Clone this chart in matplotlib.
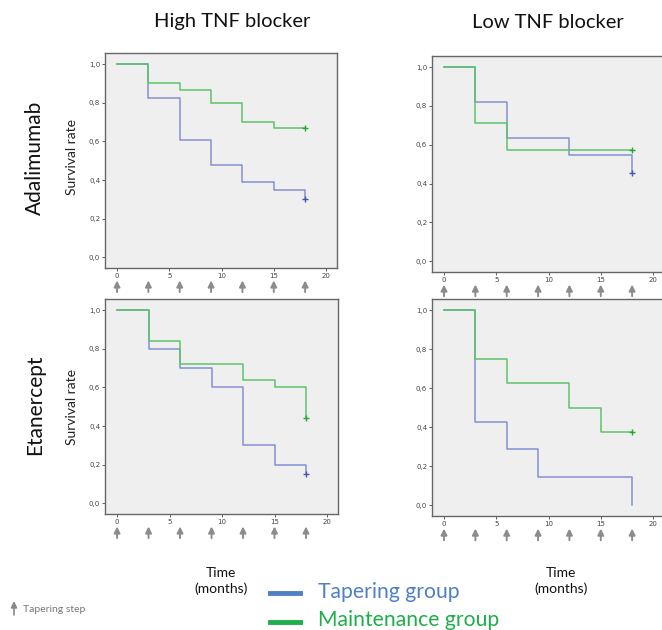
import numpy as np
import matplotlib.pyplot as plt
from matplotlib.ticker import FuncFormatter

plt.rcParams['font.family'] = ['Lato', 'DejaVu Sans']

# tapering steps (months)
steps = [0, 3, 6, 9, 12, 15, 18]

# Adalimumab, high TNF blocker
ada_high_tap_t = [0, 3, 6, 9, 12, 15, 18]
ada_high_tap_s = [1.0, 0.824, 0.608, 0.480, 0.392, 0.350, 0.300]
ada_high_mai_t = [0, 3, 6, 9, 12, 15, 18]
ada_high_mai_s = [1.0, 0.900, 0.867, 0.800, 0.700, 0.667, 0.667]

# Adalimumab, low TNF blocker
ada_low_tap_t = [0, 3, 6, 12, 18]
ada_low_tap_s = [1.0, 0.818, 0.636, 0.545, 0.455]
ada_low_mai_t = [0, 3, 6, 18]
ada_low_mai_s = [1.0, 0.714, 0.571, 0.571]

# Etanercept, high TNF blocker
eta_high_tap_t = [0, 3, 6, 9, 12, 15, 18]
eta_high_tap_s = [1.0, 0.80, 0.70, 0.60, 0.30, 0.20, 0.15]
eta_high_mai_t = [0, 3, 6, 12, 15, 18]
eta_high_mai_s = [1.0, 0.84, 0.72, 0.64, 0.60, 0.44]

# Etanercept, low TNF blocker
eta_low_tap_t = [0, 3, 6, 9, 18]
eta_low_tap_s = [1.0, 0.429, 0.286, 0.143, 0.0]
eta_low_mai_t = [0, 3, 6, 12, 15, 18]
eta_low_mai_s = [1.0, 0.750, 0.625, 0.500, 0.375, 0.375]

BLUE = '#8391d2'
GREEN = '#5cc46c'
ARROW = '#8c8c8c'
W, H = 662, 630

fig = plt.figure(figsize=(W / 100, H / 100), dpi=100)


def px_axes(left, top, right, bottom):
    return fig.add_axes([left / W, 1 - bottom / H, (right - left) / W, (bottom - top) / H])


panels = [
    (px_axes(105, 53, 337, 268), ada_high_tap_t, ada_high_tap_s, ada_high_mai_t, ada_high_mai_s, True),
    (px_axes(432, 56, 664, 272), ada_low_tap_t, ada_low_tap_s, ada_low_mai_t, ada_low_mai_s, True),
    (px_axes(105, 299, 338, 514), eta_high_tap_t, eta_high_tap_s, eta_high_mai_t, eta_high_mai_s, True),
    (px_axes(432, 299, 664, 516), eta_low_tap_t, eta_low_tap_s, eta_low_mai_t, eta_low_mai_s, False),
]

comma = FuncFormatter(lambda v, p: ('%.1f' % v).replace('.', ','))

for ax, tt, ts, mt, ms, cens_tap in panels:
    ax.set_facecolor('#efefef')
    ax.step(tt, ts, where='post', color=BLUE, lw=1.1)
    ax.step(mt, ms, where='post', color=GREEN, lw=1.1)
    if cens_tap:
        ax.plot(tt[-1], ts[-1], '+', color='#4455bb', ms=4, mew=1)
    ax.plot(mt[-1], ms[-1], '+', color='#22aa33', ms=4, mew=1)
    ax.set_xlim(-1.15, 21.05)
    ax.set_ylim(-0.055, 1.057)
    ax.set_xticks([0, 5, 10, 15, 20])
    ax.set_yticks([0, 0.2, 0.4, 0.6, 0.8, 1.0])
    ax.yaxis.set_major_formatter(comma)
    ax.tick_params(labelsize=5, length=2, width=0.6, color='#444444', labelcolor='#444444', pad=1.5,
                   labelfontfamily='DejaVu Sans')
    for s in ax.spines.values():
        s.set_color('#666666')
        s.set_linewidth(1.0)
    tr = ax.get_xaxis_transform()
    for x in steps:
        ax.annotate('', xy=(x, -0.058), xytext=(x, -0.112), xycoords=tr, textcoords=tr,
                    annotation_clip=False,
                    arrowprops=dict(arrowstyle='-|>', color=ARROW, lw=1.4,
                                    mutation_scale=9, shrinkA=0, shrinkB=0))

# headers and row labels
fig.text(232 / W, 1 - 22 / H, 'High TNF blocker', ha='center', va='center', fontsize=14.5, color='#111111')
fig.text(548 / W, 1 - 22 / H, 'Low TNF blocker', ha='center', va='center', fontsize=14.5, color='#111111')
fig.text(35 / W, 1 - 158 / H, 'Adalimumab', ha='center', va='center', rotation=90, fontsize=15, color='#111111')
fig.text(35 / W, 1 - 405 / H, 'Etanercept', ha='center', va='center', rotation=90, fontsize=15, color='#111111')
fig.text(72 / W, 1 - 157 / H, 'Survival rate', ha='center', va='center', rotation=90, fontsize=10, color='#222222')
fig.text(72 / W, 1 - 407 / H, 'Survival rate', ha='center', va='center', rotation=90, fontsize=10, color='#222222')

# x axis labels
for cx in (221, 561):
    fig.text(cx / W, 1 - 581 / H, 'Time\n(months)', ha='center', va='center', fontsize=10,
             color='#111111', linespacing=1.3)

# legend
fig.lines.append(plt.Line2D([270 / W, 300 / W], [1 - 593 / H] * 2, color='#4f7fc4', lw=3.5,
                            transform=fig.transFigure))
fig.lines.append(plt.Line2D([270 / W, 300 / W], [1 - 622 / H] * 2, color='#1fae4a', lw=3.5,
                            transform=fig.transFigure))
fig.text(318 / W, 1 - 592 / H, 'Tapering group', ha='left', va='center', fontsize=15.2, color='#4f7fc4')
fig.text(318 / W, 1 - 620 / H, 'Maintenance group', ha='left', va='center', fontsize=15.2, color='#1fae4a')

# tapering step note
fig.add_artist(plt.matplotlib.patches.FancyArrowPatch(
    (14 / W, 1 - 615 / H), (14 / W, 1 - 601 / H), transform=fig.transFigure,
    arrowstyle='-|>', mutation_scale=9, color='#888888', lw=1.2, shrinkA=0, shrinkB=0))
fig.text(23 / W, 1 - 609 / H, 'Tapering step', ha='left', va='center', fontsize=7.5, color='#777777')

fig.savefig('out.png', dpi=100)
